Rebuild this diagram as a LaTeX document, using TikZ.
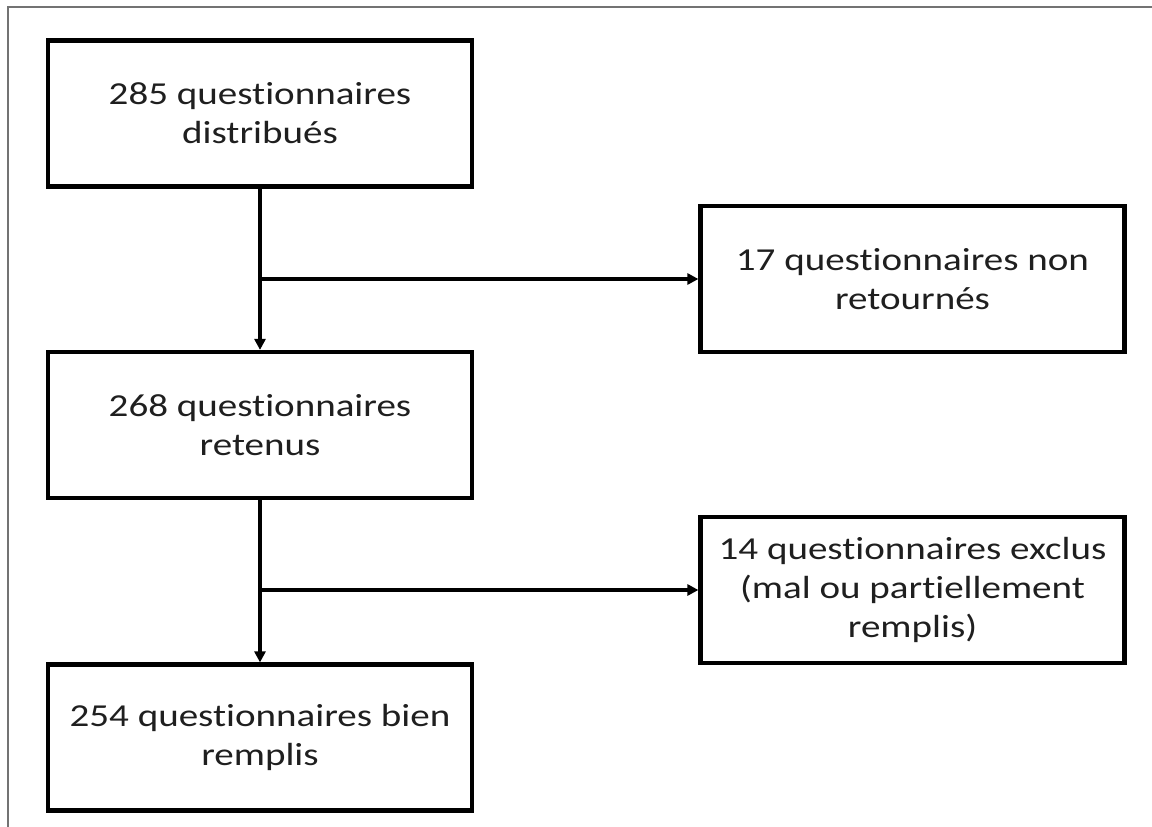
\documentclass[tikz,border=0pt]{standalone}
\usepackage{fontspec}
\setmainfont{Carlito}[FakeStretch=1.22,Ligatures={NoCommon}]
\usetikzlibrary{arrows.meta}
\begin{document}
\begin{tikzpicture}[x=1pt,y=-1pt,
  box/.style={draw, line width=4.2pt, minimum width=424pt, minimum height=146pt,
    align=center, inner sep=0pt, font=\fontsize{32}{39}\selectfont, text=black!88},
  conn/.style={line width=3.5pt, -{Triangle[length=11pt,width=11pt]}},
  frameline/.style={line width=1.5pt, draw=black!55}]
\useasboundingbox (0,0) rectangle (1152,827);
\draw[frameline] (8,827) -- (8,7) -- (1152,7);
\node[box] (b1) at (260,113.5) {285 questionnaires\\distribués};
\node[box] (b2) at (912.5,279) {17 questionnaires non\\retournés};
\node[box] (b3) at (260,425) {268 questionnaires\\retenus};
\node[box] (b4) at (912.5,590) {14 questionnaires exclus\\(mal ou partiellement\\remplis)};
\node[box] (b5) at (260,737.5) {254 questionnaires bien\\remplis};
\coordinate (j1) at (b1.south |- b2.west);
\coordinate (j2) at (b3.south |- b4.west);
\draw[conn] (b1.south) -- (b3.north);
\draw[conn] (j1) -- (b2.west);
\draw[conn] (b3.south) -- (b5.north);
\draw[conn] (j2) -- (b4.west);
\end{tikzpicture}
\end{document}
